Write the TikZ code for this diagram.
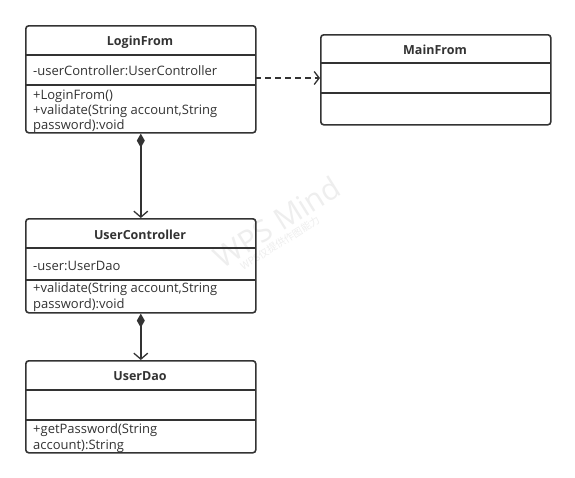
\documentclass[tikz,border=0pt]{standalone}
\usepackage{fontspec}
\setmainfont{Open Sans}
\newfontfamily\cjk{Noto Sans CJK SC}
\usetikzlibrary{arrows.meta}
\definecolor{ln}{HTML}{333333}
\definecolor{wm}{HTML}{EEEEEE}
\begin{document}
\begin{tikzpicture}[x=1pt,y=-1pt,
  box/.style={draw=ln,line width=1.6pt,rounded corners=3pt,inner sep=0pt,anchor=north west},
  sep/.style={draw=ln,line width=1.3pt},
  title/.style={font=\fontsize{12.5}{14}\selectfont\bfseries,text=ln},
  member/.style={font=\fontsize{13}{16}\selectfont,text=ln,anchor=west,inner sep=0pt},
  comp/.style={draw=ln,line width=1.6pt,{Diamond[length=14pt,width=8pt]}-{Straight Barb[length=6pt,width=14pt,line width=1.3pt]}},
  dep/.style={draw=ln,line width=1.6pt,dashed,dash pattern=on 6pt off 4pt,-{Straight Barb[length=5pt,width=13pt,line width=1.3pt]}}]
\useasboundingbox (0,0) rectangle (575,477);
\fill[white] (0,0) rectangle (575,477);
% watermark
\node[rotate=32,text=wm,font=\fontsize{30}{32}\selectfont] (wm1) at (277,222) {WPS Mind};
\node[rotate=32,text=wm,font=\cjk\fontsize{10}{12}\selectfont] (wm2) at (280,243) {WPS仅提供作图能力};
% LoginFrom
\node[box,minimum width=230pt,minimum height=107pt] (login) at (25,25) {};
\draw[sep] (25,55) -- (255,55);
\draw[sep] (25,85) -- (255,85);
\node[title] (loginT) at (140,42) {LoginFrom};
\node[member] (loginA) at (33,71) {-userController:UserController};
\node[member] (loginM1) at (33,96) {+LoginFrom()};
\node[member] (loginM2) at (33,111) {+validate(String account,String};
\node[member] (loginM3) at (33,126) {password):void};
% MainFrom
\node[box,minimum width=230pt,minimum height=90pt] (main) at (320,34) {};
\draw[sep] (320,63) -- (550,63);
\draw[sep] (320,93) -- (550,93);
\node[title] (mainT) at (435,50) {MainFrom};
% UserController
\node[box,minimum width=230pt,minimum height=94pt] (uc) at (25,218) {};
\draw[sep] (25,248) -- (255,248);
\draw[sep] (25,280) -- (255,280);
\node[title] (ucT) at (140,235) {UserController};
\node[member] (ucA) at (33,266) {-user:UserDao};
\node[member] (ucM1) at (33,289) {+validate(String account,String};
\node[member] (ucM2) at (33,305) {password):void};
% UserDao
\node[box,minimum width=230pt,minimum height=92pt] (dao) at (25,360) {};
\draw[sep] (25,390) -- (255,390);
\draw[sep] (25,420) -- (255,420);
\node[title] (daoT) at (140,376) {UserDao};
\node[member] (daoM1) at (33,430) {+getPassword(String};
\node[member] (daoM2) at (33,446) {account):String};
% connectors
\coordinate (loginR) at (255,78);
\coordinate (mainL) at (320,78);
\draw[dep] (loginR) -- (mainL);
\draw[comp] (login.south) -- (uc.north);
\draw[comp] (uc.south) -- (dao.north);
\end{tikzpicture}
\end{document}
